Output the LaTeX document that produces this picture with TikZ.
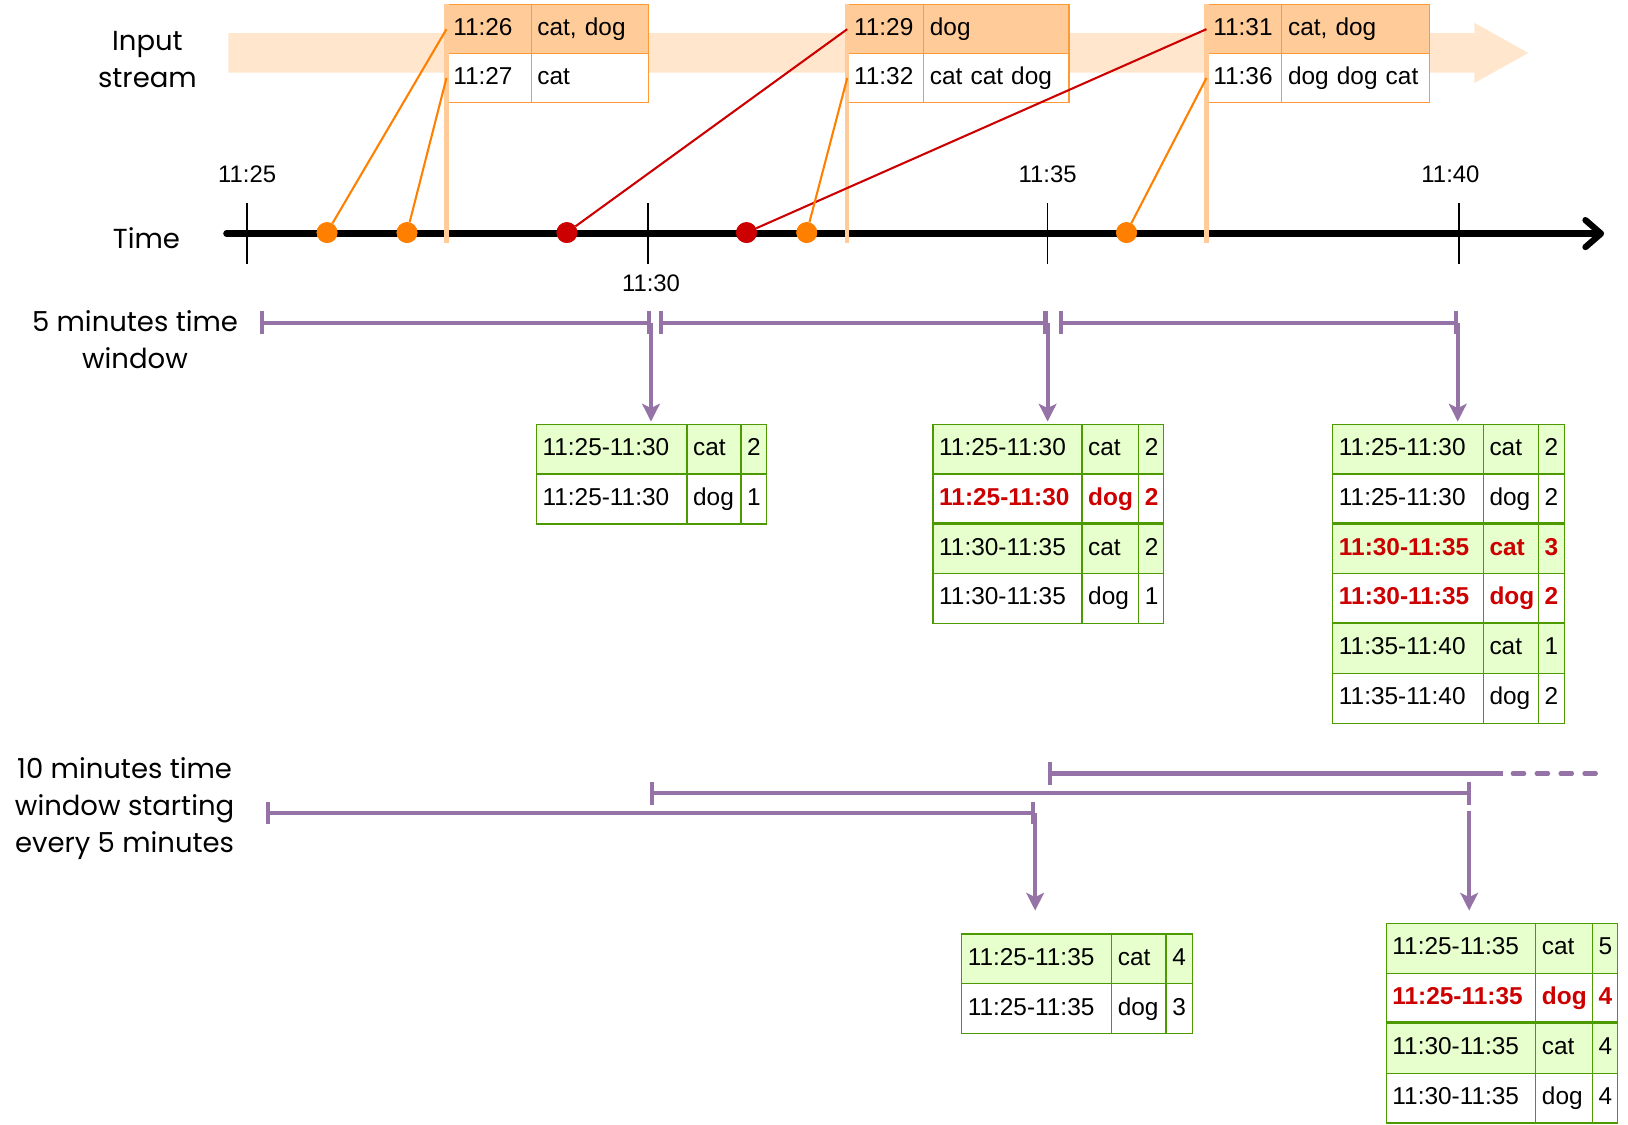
\documentclass[tikz,border=0pt]{standalone}
\usepackage{fontspec}
\setmainfont{Liberation Sans}
\newfontfamily\handfont{Poppins}
\usetikzlibrary{arrows.meta}
\definecolor{bandc}{HTML}{FFE6CC}
\definecolor{hdrc}{HTML}{FFCC99}
\definecolor{orgline}{HTML}{FF9933}
\definecolor{dotor}{HTML}{FF8000}
\definecolor{redc}{HTML}{CC0000}
\definecolor{purp}{HTML}{9673A6}
\definecolor{grfill}{HTML}{E6FFCC}
\definecolor{grline}{HTML}{4D9900}

\newcommand\tcell[6]{%
  \pgfmathsetmacro\tcw{#4-12}%
  \node[#5, minimum width=#4pt, text width=\tcw pt] (#1) at (#2,#3) {#6};%
}
\newcommand\rrow[7]{%
  \pgfmathsetmacro\xb{#2+\wa}%
  \pgfmathsetmacro\xc{#2+\wa+\wb}%
  \tcell{#1a}{#2}{#3}{\wa}{#4}{#5}%
  \tcell{#1b}{\xb}{#3}{\wb}{#4}{#6}%
  \tcell{#1c}{\xc}{#3}{\wc}{#4}{#7}%
}
\newcommand\irow[6]{%
  \pgfmathsetmacro\xb{#2+\ia}%
  \tcell{#1a}{#2}{#3}{\ia}{#4}{#5}%
  \tcell{#1b}{\xb}{#3}{\ib}{#4}{#6}%
}

\begin{document}
\begin{tikzpicture}[x=1pt,y=-1pt,
  cellfont/.style={font=\fontsize{23.5}{28}\selectfont},
  cellbox/.style={draw, cellfont, inner xsep=6pt, inner ysep=0pt, minimum height=48pt,
    text height=17pt, text depth=5pt, align=left, anchor=north west},
  gcell/.style={cellbox, draw=grline, fill=grfill, line width=1.2pt},
  wcell/.style={cellbox, draw=grline, fill=white, line width=1.2pt},
  hotc/.style={text=redc, font=\fontsize{23.5}{28}\selectfont\bfseries},
  ghot/.style={gcell, hotc},
  whot/.style={wcell, hotc},
  ohead/.style={cellbox, draw=orgline, fill=hdrc, line width=1.2pt, minimum height=47pt},
  obody/.style={cellbox, draw=orgline, fill=white, line width=1.2pt, minimum height=47pt},
  evo/.style={circle, fill=dotor, minimum size=20pt, inner sep=0pt},
  evr/.style={circle, fill=redc, minimum size=20pt, inner sep=0pt},
  olink/.style={draw=dotor, line width=2pt},
  rlink/.style={draw=redc, line width=2pt},
  pbar/.style={draw=hdrc, line width=4pt},
  axisline/.style={line width=6pt, line cap=round, -{Straight Barb[length=15pt,width=26pt,round]}},
  tick/.style={line width=1.5pt},
  tlabel/.style={font=\fontsize{23}{28}\selectfont},
  win/.style={draw=purp, line width=4pt, {Bar[width=22pt]}-{Bar[width=22pt]}},
  winl/.style={draw=purp, line width=4pt, {Bar[width=22pt]}-},
  wind/.style={draw=purp, line width=4pt, line cap=round, dash pattern=on 11pt off 12pt},
  parrow/.style={draw=purp, line width=4pt, -{Stealth[length=17pt,width=17pt,inset=4pt]}},
  sep/.style={draw=grline, line width=2.6pt},
  hand/.style={font=\handfont\fontsize{26.5}{35.5}\selectfont, align=center}
]
\useasboundingbox (0,0) rectangle (1568,1083);

% input stream band
\fill[bandc] (220,32) -- (1420,32) -- (1420,22) -- (1472,51) -- (1420,80) -- (1420,70) -- (220,70) -- cycle;

% time axis
\coordinate (ax0) at (218,225);
\coordinate (ax1) at (1545,225);
\draw[axisline] (ax0) -- (ax1);
\foreach \x in {238,624,1009,1405} \draw[tick] (\x,196) -- (\x,254);

% input tables
\def\ia{81}\def\ib{113}
\irow{P1h}{430}{4}{ohead}{11:26}{cat, dog}
\irow{P1b}{430}{51}{obody}{11:27}{cat}
\def\ia{73}\def\ib{140}
\irow{P2h}{816}{4}{ohead}{11:29}{dog}
\irow{P2b}{816}{51}{obody}{11:32}{cat cat dog}
\def\ia{72}\def\ib{142}
\irow{P3h}{1162}{4}{ohead}{11:31}{cat, dog}
\irow{P3b}{1162}{51}{obody}{11:36}{dog dog cat}

% bars from tables to axis
\draw[pbar] (P1ha.north west) -- ++(0,230);
\draw[pbar] (P2ha.north west) -- ++(0,230);
\draw[pbar] (P3ha.north west) -- ++(0,230);

% events
\node[evo] (e1) at (315,224) {};
\node[evo] (e2) at (392,224) {};
\node[evr] (e3) at (546,224) {};
\node[evr] (e4) at (719,224) {};
\node[evo] (e5) at (777,224) {};
\node[evo] (e6) at (1085,224) {};
\draw[olink] (e1) -- (P1ha.west);
\draw[olink] (e2) -- (P1ba.west);
\draw[rlink] (e3) -- (P2ha.west);
\draw[rlink] (e4) -- (P3ha.west);
\draw[olink] (e5) -- (P2ba.west);
\draw[olink] (e6) -- (P3ba.west);
\node[evo] (e1t) at (e1) {};
\node[evo] (e2t) at (e2) {};
\node[evr] (e3t) at (e3) {};
\node[evr] (e4t) at (e4) {};
\node[evo] (e5t) at (e5) {};
\node[evo] (e6t) at (e6) {};

% tick labels
\node[tlabel] (l25) at (238,168) {11:25};
\node[tlabel] (l30) at (627,273) {11:30};
\node[tlabel] (l35) at (1009,168) {11:35};
\node[tlabel] (l40) at (1397,168) {11:40};

% hand labels
\node[hand] (hin) at (142,57) {Input\\stream};
\node[hand] (htime) at (141,229) {Time};
\node[hand] (h5) at (130,327) {5 minutes time\\window};
\node[hand] (h10) at (120,779) {10 minutes time\\window starting\\every 5 minutes};

% result tables (5 minutes)
\def\wa{145}\def\wb{52}\def\wc{25}
\rrow{A1}{516}{408}{gcell}{11:25-11:30}{cat}{2}
\rrow{A2}{516}{456}{wcell}{11:25-11:30}{dog}{1}
\def\wa{143.5}\def\wb{54.5}\def\wc{24}
\rrow{B1}{898}{408}{gcell}{11:25-11:30}{cat}{2}
\rrow{B2}{898}{456}{whot}{11:25-11:30}{dog}{2}
\rrow{B3}{898}{504}{gcell}{11:30-11:35}{cat}{2}
\rrow{B4}{898}{552}{wcell}{11:30-11:35}{dog}{1}
\def\wa{145}\def\wb{53}\def\wc{25}
\rrow{C1}{1283}{408}{gcell}{11:25-11:30}{cat}{2}
\rrow{C2}{1283}{456}{wcell}{11:25-11:30}{dog}{2}
\rrow{C3}{1283}{504}{ghot}{11:30-11:35}{cat}{3}
\rrow{C4}{1283}{552}{whot}{11:30-11:35}{dog}{2}
\rrow{C5}{1283}{600}{gcell}{11:35-11:40}{cat}{1}
\rrow{C6}{1283}{648}{wcell}{11:35-11:40}{dog}{2}
\draw[sep] (B3a.north west) -- (B3c.north east);
\draw[sep] (C3a.north west) -- (C3c.north east);
\draw[sep] (C5a.north west) -- (C5c.north east);

% result tables (10 minutes)
\def\wa{144.5}\def\wb{52.5}\def\wc{25.5}
\rrow{D1}{925.5}{899}{gcell}{11:25-11:35}{cat}{4}
\rrow{D2}{925.5}{947}{wcell}{11:25-11:35}{dog}{3}
\def\wa{144}\def\wb{54.5}\def\wc{24.5}
\rrow{E1}{1334.5}{889}{gcell}{11:25-11:35}{cat}{5}
\rrow{E2}{1334.5}{937}{whot}{11:25-11:35}{dog}{4}
\rrow{E3}{1334.5}{985}{gcell}{11:30-11:35}{cat}{4}
\rrow{E4}{1334.5}{1033}{wcell}{11:30-11:35}{dog}{4}
\draw[sep] (E3a.north west) -- (E3c.north east);

% 5 minute windows
\coordinate (w1s) at (250,311); \coordinate (w1e) at (627,311);
\coordinate (w2s) at (635,311); \coordinate (w2e) at (1009,311);
\coordinate (w3s) at (1020,311); \coordinate (w3e) at (1404,311);
\draw[win] (w1s) -- (w1e);
\draw[win] (w2s) -- (w2e);
\draw[win] (w3s) -- (w3e);
\draw[parrow, shorten >=2pt] (w1e) -- (w1e |- A1a.north);
\draw[parrow, shorten >=2pt] (w2e) -- (w2e |- B1a.north);
\draw[parrow, shorten >=2pt] (w3e) -- (w3e |- C1a.north);

% 10 minute windows
\coordinate (m1s) at (256,783); \coordinate (m1e) at (997,783);
\coordinate (m2s) at (626,764); \coordinate (m2e) at (1417,764);
\coordinate (m2a) at (1415,781);
\coordinate (m3s) at (1009,745); \coordinate (m3e) at (1448,745);
\coordinate (m3f) at (1457,745); \coordinate (m3d) at (1538,745);
\draw[win] (m1s) -- (m1e);
\draw[win] (m2s) -- (m2e);
\draw[winl] (m3s) -- (m3e);
\draw[wind] (m3f) -- (m3d);
\draw[parrow, shorten >=22pt] (m1e) -- (m1e |- D1a.north);
\draw[parrow, shorten >=12pt] (m2a) -- (m2a |- E1a.north);
\end{tikzpicture}
\end{document}
